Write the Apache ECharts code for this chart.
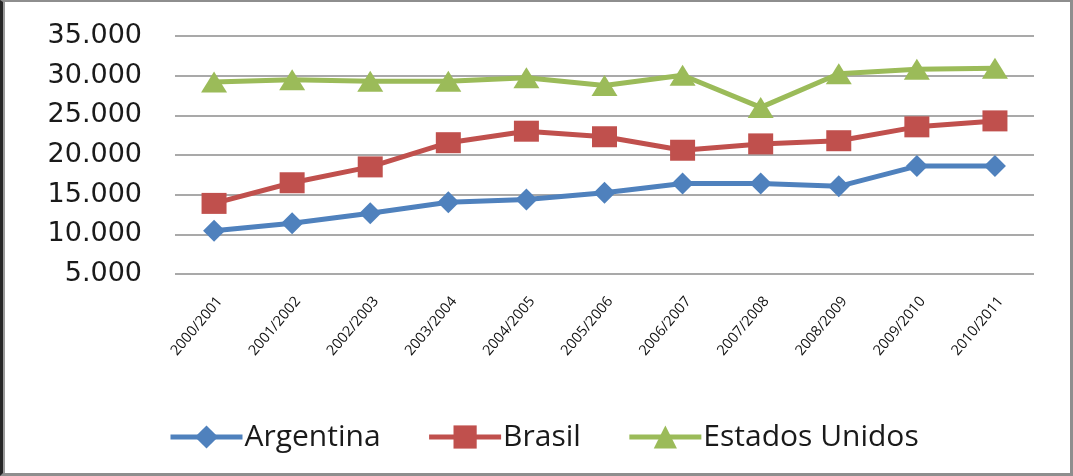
<!DOCTYPE html>
<html>
<head>
<meta charset="utf-8">
<script src="https://cdn.jsdelivr.net/npm/echarts@6/dist/echarts.min.js"></script>
<style>
  html, body { margin: 0; padding: 0; background: #ffffff; }
  #wrap { position: relative; width: 1073px; height: 476px; overflow: hidden; }
  #chart { position: absolute; left: 0; top: 0; width: 1073px; height: 476px; }
  #frame {
    position: absolute; left: 0; top: 0; width: 1073px; height: 476px;
    box-sizing: border-box; pointer-events: none;
    border-top: 2px solid #8e8e8e;
    border-right: 3px solid #8e8e8e;
    border-bottom: 3px solid #8e8e8e;
    border-left: 3px solid #262626;
    box-shadow: inset 2px 0 0 #9a9a9a;
  }
</style>
</head>
<body>
<div id="wrap">
  <div id="chart"></div>
  <div id="frame"></div>
</div>
<script>
// Harvest seasons
const seasons = ['2000/2001', '2001/2002', '2002/2003', '2003/2004', '2004/2005',
                 '2005/2006', '2006/2007', '2007/2008', '2008/2009', '2009/2010', '2010/2011'];

// Values per country
const argentina = [10450, 11400, 12650, 14050, 14400, 15250, 16400, 16400, 16050, 18600, 18600];
const brasil    = [13900, 16500, 18500, 21550, 23000, 22300, 20600, 21400, 21800, 23550, 24300];
const estadosUnidos = [29200, 29500, 29300, 29300, 29750, 28750, 30050, 26000, 30250, 30800, 30950];

// Value axis range
const yMin = 5000;
const yMax = 35000;
const yStep = 5000;

// Thousands separator with a dot: 35000 -> "35.000"
function fmtThousands(v) {
  return String(Math.round(v)).replace(/\B(?=(\d{3})+(?!\d))/g, '.');
}

const chart = echarts.init(document.getElementById('chart'), null, { renderer: 'canvas' });

function lineSeries(name, data, color, symbol, size) {
  return {
    name: name,
    type: 'line',
    data: data,
    symbol: symbol,
    symbolSize: size,
    showAllSymbol: true,
    lineStyle: { color: color, width: 5 },
    itemStyle: { color: color, borderWidth: 0 },
    emphasis: { disabled: true },
    animation: false
  };
}

chart.setOption({
  backgroundColor: '#ffffff',
  animation: false,
  grid: { left: 175, right: 39, top: 36, bottom: 202, containLabel: false },
  xAxis: {
    type: 'category',
    data: seasons,
    boundaryGap: true,
    axisLine: { show: false },
    axisTick: { show: false },
    axisLabel: {
      interval: 0,
      rotate: 50,
      margin: 20,
      fontFamily: 'Open Sans',
      fontSize: 14.5,
      color: '#111111',
      align: 'right',
      verticalAlign: 'top'
    },
    splitLine: { show: false }
  },
  yAxis: {
    type: 'value',
    min: yMin,
    max: yMax,
    interval: yStep,
    axisLine: { show: false },
    axisTick: { show: false },
    axisLabel: {
      margin: 33,
      fontFamily: 'DejaVu Sans',
      fontSize: 27,
      color: '#1a1a1a',
      formatter: fmtThousands
    },
    splitLine: { show: true, lineStyle: { color: '#8c8c8c', width: 1.5 } }
  },
  legend: {
    left: 163,
    top: 417,
    itemWidth: 72,
    itemHeight: 29,
    itemGap: 46,
    lineStyle: { width: 5 },
    textStyle: { fontFamily: 'Open Sans', fontSize: 30, color: '#1a1a1a', padding: [0, 0, 0, -3] },
    data: ['Argentina', 'Brasil', 'Estados Unidos']
  },
  series: [
    lineSeries('Argentina', argentina, '#4f81bd', 'diamond', [22, 22]),
    lineSeries('Brasil', brasil, '#c0504d', 'rect', [25, 21]),
    lineSeries('Estados Unidos', estadosUnidos, '#9bbb59', 'triangle', [26, 21])
  ]
});
</script>
</body>
</html>
